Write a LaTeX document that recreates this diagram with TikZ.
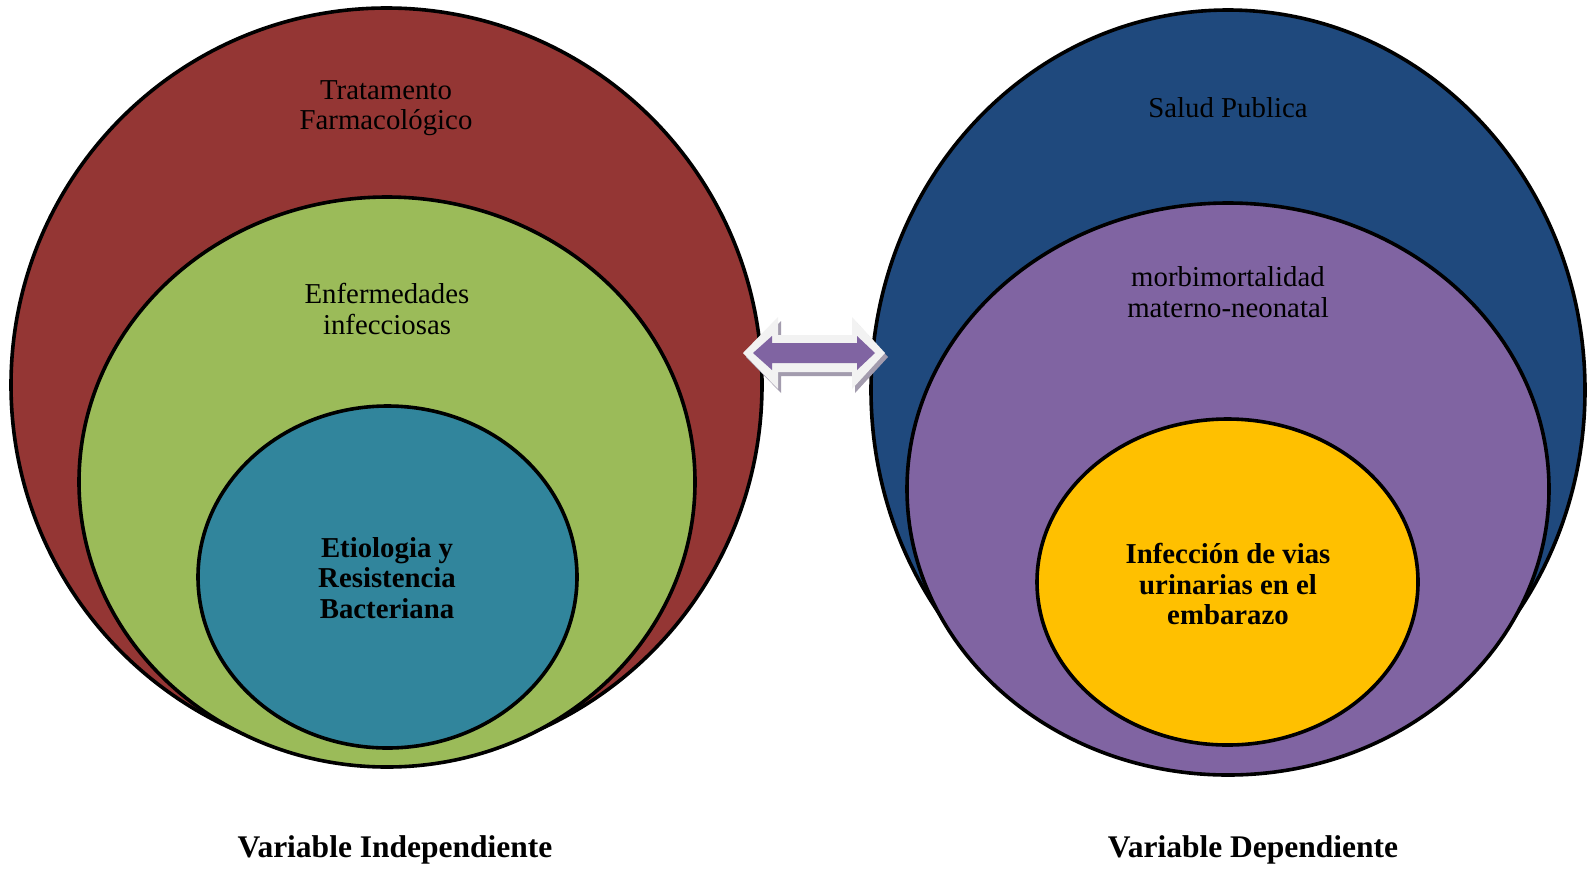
\documentclass[tikz,border=0pt]{standalone}
\usepackage{fontspec}
\setmainfont{Liberation Serif}
\definecolor{cred}{HTML}{943634}
\definecolor{cgreen}{HTML}{9BBB59}
\definecolor{cteal}{HTML}{31859C}
\definecolor{cblue}{HTML}{1F497D}
\definecolor{cpurple}{HTML}{8064A2}
\definecolor{cyellow}{HTML}{FFC000}
\definecolor{cshadow}{HTML}{A39CAE}
\definecolor{cborder}{HTML}{F2F2F2}
\begin{document}
\begin{tikzpicture}[x=1pt,y=-1pt,
  ring/.style={draw=black,line width=3.6pt},
  lbl/.style={align=center,text=black,font=\fontsize{28.8}{30.4}\selectfont,inner sep=0pt},
  blbl/.style={align=center,text=black,font=\fontsize{28.8}{30.4}\selectfont\bfseries,inner sep=0pt},
  foot/.style={text=black,font=\fontsize{31.5}{33}\selectfont\bfseries,inner sep=0pt}]
\useasboundingbox[fill=white] (0,0) rectangle (1589,868);
% left set
\path[ring,fill=cred] (386.5,385) ellipse [x radius=375.5,y radius=377];
\path[ring,fill=cgreen] (387,482) ellipse [x radius=308,y radius=285];
\path[ring,fill=cteal] (387.5,577) ellipse [x radius=189.5,y radius=171];
% right set
\path[ring,fill=cblue] (1228,390) ellipse [x radius=357,y radius=380];
\path[ring,fill=cpurple] (1228,489) ellipse [x radius=321,y radius=286];
\path[ring,fill=cyellow] (1227.5,582) ellipse [x radius=190.5,y radius=163];
% texts
\node[lbl] (t1) at (386,108) {Tratamento\\Farmacológico};
\node[lbl] (t2) at (387,309) {Enfermedades\\infecciosas};
\node[blbl] (t3) at (387,578) {Etiologia y\\Resistencia\\Bacteriana};
\node[lbl] (t4) at (1228,108) {Salud Publica};
\node[lbl] (t5) at (1228,292) {morbimortalidad\\materno-neonatal};
\node[blbl] (t6) at (1228,584) {Infección de vias\\urinarias en el\\embarazo};
\node[foot] (f1) at (395,850) {Variable Independiente};
\node[foot] (f2) at (1253,850) {Variable Dependiente};
% double arrow: shadow, light border, purple body
\fill[cshadow,shift={(3,4)}]
  (743,353) -- (778,317) -- (778,335) -- (852,335) -- (852,317) -- (885,353)
  -- (852,389) -- (852,372) -- (778,372) -- (778,389) -- cycle;
\fill[cborder]
  (743,353) -- (778,317) -- (778,335) -- (852,335) -- (852,317) -- (885,353)
  -- (852,389) -- (852,372) -- (778,372) -- (778,389) -- cycle;
\fill[cpurple]
  (753,353) -- (772,336) -- (772,343) -- (857,343) -- (857,336) -- (875,353)
  -- (857,370) -- (857,363) -- (772,363) -- (772,370) -- cycle;
\end{tikzpicture}
\end{document}
